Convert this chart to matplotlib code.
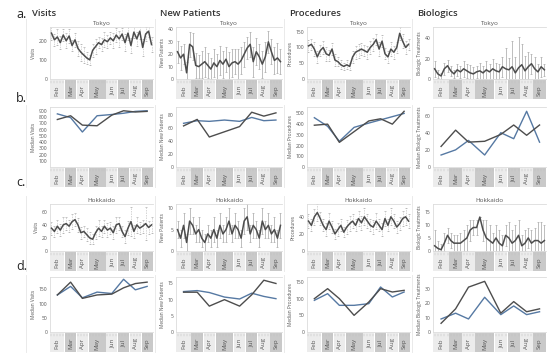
import matplotlib

matplotlib.use("Agg")
import matplotlib.pyplot as plt
import numpy as np
from matplotlib.patches import Rectangle

W, H = 550, 359

plt.rcParams.update({
    "font.family": ["Open Sans", "DejaVu Sans"],
    "figure.dpi": 100,
})

MONTHS = ["Feb", "Mar", "Apr", "May", "Jun", "Jul", "Aug", "Sep"]
WEEKS_PER_MONTH = [5, 4, 4, 6, 4, 4, 4, 4]

COLUMN_TITLES = ["Visits", "New Patients", "Procedures", "Biologics"]
WEEKLY_YLABELS = ["Visits", "New Patients", "Procedures", "Biologic Treatments"]
MONTHLY_YLABELS = ["Median Visits", "Median New Patients",
                   "Median Procedures", "Median Biologic Treatments"]

# ---- row a: Tokyo, weekly ----
TOKYO_VISITS = [240, 205, 220, 190, 230, 200, 225, 175, 205, 160, 140, 125,
                110, 100, 150, 170, 190, 180, 205, 195, 215, 200, 230, 210,
                235, 190, 240, 175, 245, 210, 250, 165, 235, 250, 180]
TOKYO_VISITS_ERR = [35, 30, 40, 35, 30, 40, 35, 30, 35, 40, 45, 40, 30, 25,
                    35, 40, 30, 35, 40, 35, 30, 40, 35, 40, 30, 45, 35, 40,
                    30, 35, 40, 45, 35, 30, 40]
TOKYO_NEWPAT = [22, 17, 20, 5, 28, 26, 11, 10, 12, 14, 11, 8, 13, 10, 15, 12,
                16, 10, 13, 14, 12, 15, 20, 25, 28, 14, 22, 18, 12, 18, 30,
                22, 15, 17, 14]
TOKYO_NEWPAT_ERR = [9, 10, 8, 9, 10, 11, 10, 9, 11, 12, 10, 9, 11, 10, 12, 11,
                    10, 12, 11, 10, 12, 11, 10, 9, 10, 12, 11, 10, 11, 12, 9,
                    10, 11, 12, 10]
TOKYO_PROC = [105, 110, 95, 70, 90, 100, 80, 75, 95, 60, 55, 45, 40, 45, 40,
              70, 85, 90, 95, 90, 85, 100, 110, 125, 95, 120, 80, 70, 95, 85,
              100, 145, 120, 100, 110]
TOKYO_PROC_ERR = [20, 18, 22, 20, 18, 20, 22, 18, 20, 18, 15, 14, 12, 14, 12,
                  18, 20, 22, 20, 18, 20, 22, 20, 18, 22, 20, 18, 20, 22, 20,
                  18, 20, 22, 20, 18]
TOKYO_BIO = [10, 5, 3, 10, 13, 8, 5, 9, 7, 10, 8, 6, 5, 7, 8, 6, 9, 7, 10, 8,
             7, 12, 10, 9, 12, 6, 11, 14, 8, 12, 15, 10, 7, 12, 9]
TOKYO_BIO_ERR = [8, 4, 3, 6, 6, 5, 4, 6, 6, 8, 7, 8, 7, 6, 8, 7, 9, 8, 10, 8,
                 8, 10, 20, 12, 25, 16, 30, 20, 15, 14, 10, 12, 8, 10, 6]

# ---- row b: Tokyo, monthly medians ----
TOKYO_M_VISITS_A = [760, 820, 670, 660, 830, 900, 880, 890]
TOKYO_M_VISITS_B = [850, 790, 560, 820, 840, 860, 890, 900]
TOKYO_M_NEWPAT_A = [63, 73, 46, 54, 62, 84, 78, 83]
TOKYO_M_NEWPAT_B = [67, 71, 70, 72, 70, 76, 71, 72]
TOKYO_M_PROC_A = [390, 400, 230, 330, 430, 450, 400, 520]
TOKYO_M_PROC_B = [460, 380, 240, 370, 410, 440, 470, 500]
TOKYO_M_BIO_A = [24, 43, 29, 30, 38, 49, 37, 49]
TOKYO_M_BIO_B = [14, 20, 31, 14, 40, 33, 65, 29]

# ---- row c: Hokkaido, weekly ----
HOKKAIDO_VISITS = [35, 30, 38, 32, 40, 42, 38, 45, 48, 40, 28, 30, 25, 20, 18,
                   28, 35, 30, 38, 32, 35, 28, 40, 42, 30, 22, 35, 45, 30, 40,
                   35, 38, 42, 36, 40]
HOKKAIDO_VISITS_ERR = [10, 8, 10, 9, 12, 10, 9, 12, 10, 11, 9, 8, 10, 9, 8,
                       10, 12, 9, 10, 11, 9, 10, 12, 10, 9, 10, 11, 22, 10, 12,
                       9, 10, 25, 10, 12]
HOKKAIDO_NEWPAT = [5, 3, 6, 2, 7, 6, 4, 5, 3, 2, 4, 3, 5, 3, 6, 4, 5, 7, 4, 6,
                   5, 3, 7, 8, 4, 6, 5, 3, 7, 5, 6, 4, 5, 3, 6]
HOKKAIDO_NEWPAT_ERR = [2, 2, 3, 2, 3, 2, 2, 3, 2, 2, 2, 2, 3, 2, 3, 2, 3, 3, 2,
                       3, 2, 2, 3, 3, 2, 3, 2, 2, 3, 2, 3, 2, 3, 2, 3]
HOKKAIDO_PROC = [35, 30, 40, 45, 38, 30, 25, 35, 28, 20, 25, 30, 22, 28, 32,
                 35, 30, 38, 33, 40, 35, 30, 28, 35, 30, 25, 38, 30, 40, 35,
                 28, 32, 38, 40, 35]
HOKKAIDO_PROC_ERR = [8, 7, 9, 10, 8, 7, 8, 9, 7, 6, 8, 7, 6, 8, 9, 8, 7, 9, 8,
                     10, 8, 7, 8, 9, 7, 8, 9, 7, 10, 8, 7, 8, 9, 10, 8]
HOKKAIDO_BIO = [2, 1, 0.5, 3, 6, 4, 3, 3, 3, 4, 5, 8, 9, 9, 13, 8, 5, 4, 3, 5,
                3, 2, 6, 5, 3, 4, 6, 2, 3, 5, 3, 4, 4, 3, 4]
HOKKAIDO_BIO_ERR = [6, 3, 2, 4, 3, 3, 3, 3, 4, 4, 5, 4, 3, 3, 0, 4, 7, 6, 4,
                    5, 5, 4, 4, 6, 5, 6, 6, 4, 5, 4, 5, 5, 7, 8, 6]

# ---- row d: Hokkaido, monthly medians ----
HOKKAIDO_M_VISITS_A = [130, 175, 118, 130, 133, 155, 170, 175]
HOKKAIDO_M_VISITS_B = [130, 160, 120, 140, 135, 185, 148, 160]
HOKKAIDO_M_NEWPAT_A = [12.3, 12.3, 8, 10, 8, 11.5, 16, 15]
HOKKAIDO_M_NEWPAT_B = [12.5, 12.8, 12.2, 10.8, 10.2, 12, 11, 10.3]
HOKKAIDO_M_PROC_A = [100, 130, 100, 50, 90, 130, 120, 125]
HOKKAIDO_M_PROC_B = [95, 115, 80, 80, 85, 135, 105, 120]
HOKKAIDO_M_BIO_A = [6, 16, 31, 35, 13, 21, 14, 16]
HOKKAIDO_M_BIO_B = [9, 13, 9, 24, 12, 18, 12, 14]

WEEKLY_ROWS = {
    "a": [(TOKYO_VISITS, TOKYO_VISITS_ERR, 272, [0, 100, 200]),
          (TOKYO_NEWPAT, TOKYO_NEWPAT_ERR, 42, [0, 10, 20, 30, 40]),
          (TOKYO_PROC, TOKYO_PROC_ERR, 165, [0, 50, 100, 150]),
          (TOKYO_BIO, TOKYO_BIO_ERR, 51, [0, 20, 40])],
    "c": [(HOKKAIDO_VISITS, HOKKAIDO_VISITS_ERR, 72, [0, 20, 40, 60]),
          (HOKKAIDO_NEWPAT, HOKKAIDO_NEWPAT_ERR, 11, [0, 5, 10]),
          (HOKKAIDO_PROC, HOKKAIDO_PROC_ERR, 55, [0, 20, 40]),
          (HOKKAIDO_BIO, HOKKAIDO_BIO_ERR, 18, [0, 5, 10, 15])],
}
MONTHLY_ROWS = {
    "b": [(TOKYO_M_VISITS_A, TOKYO_M_VISITS_B, 960, list(range(100, 1000, 100))),
          (TOKYO_M_NEWPAT_A, TOKYO_M_NEWPAT_B, 92, [0, 20, 40, 60, 80]),
          (TOKYO_M_PROC_A, TOKYO_M_PROC_B, 560, [0, 100, 200, 300, 400, 500]),
          (TOKYO_M_BIO_A, TOKYO_M_BIO_B, 70, [0, 20, 40, 60])],
    "d": [(HOKKAIDO_M_VISITS_A, HOKKAIDO_M_VISITS_B, 193, [0, 50, 100, 150]),
          (HOKKAIDO_M_NEWPAT_A, HOKKAIDO_M_NEWPAT_B, 17, [0, 5, 10, 15]),
          (HOKKAIDO_M_PROC_A, HOKKAIDO_M_PROC_B, 165, [0, 50, 100, 150]),
          (HOKKAIDO_M_BIO_A, HOKKAIDO_M_BIO_B, 38, [0, 10, 20, 30])],
}

# layout in pixels
COL_START = [26, 155, 284, 412]
PLOT_X = [(50, 153), (176, 282), (307, 410), (433, 546)]
ROWS = {  # plot top, plot bottom, band bottom
    "a": (27, 79, 99),
    "b": (107, 167, 187),
    "c": (204, 251, 271),
    "d": (277, 332, 352),
}
ROW_LABEL_Y = {"a": 14, "b": 98, "c": 183, "d": 266}
TITLE_CITY = {"a": "Tokyo", "c": "Hokkaido"}

LINE_DARK = "#4d4d4d"
LINE_BLUE = "#5679a3"
BAND_LIGHT = "#ececec"
BAND_DARK = "#c9c9c9"
BORDER = "#dcdcdc"
TEXT = "#555555"


def rect(x0, y0, x1, y1):
    return [x0 / W, 1 - y1 / H, (x1 - x0) / W, (y1 - y0) / H]


n_weeks = sum(WEEKS_PER_MONTH)
month_edges = np.concatenate([[0], np.cumsum(WEEKS_PER_MONTH)])
month_centers = (month_edges[:-1] + month_edges[1:]) / 2
week_x = np.arange(n_weeks) + 0.5


def style_plot(ax, ymax, ticks, ylabel):
    ax.set_xlim(0, n_weeks)
    ax.set_ylim(0, ymax)
    ax.set_xticks([])
    ax.set_yticks(ticks)
    ax.tick_params(axis="y", length=0, labelsize=3.6, colors=TEXT, pad=2)
    ax.spines["right"].set_visible(False)
    for s in ["left", "top", "bottom"]:
        ax.spines[s].set_color(BORDER)
        ax.spines[s].set_linewidth(0.6)
    ax.set_ylabel(ylabel, fontsize=3.4, color=TEXT, labelpad=2)
    ax.patch.set_alpha(0)


def draw_band(fig, x0, x1, y0, y1):
    bax = fig.add_axes(rect(x0, y0, x1, y1))
    bax.set_xlim(0, n_weeks)
    bax.set_ylim(1, 0)
    bax.axis("off")
    for i, m in enumerate(MONTHS):
        c = BAND_LIGHT if i % 2 == 0 else BAND_DARK
        bax.add_patch(Rectangle((month_edges[i] + 0.1, 0), WEEKS_PER_MONTH[i] - 0.2, 1,
                                facecolor=c, edgecolor="none"))
        bax.text(month_centers[i], 0.56, m, rotation=90, ha="center",
                 va="center", fontsize=4.4, color=TEXT)
    for wx in week_x:
        bax.plot([wx, wx], [0.03, 0.15], color="#bdbdbd", lw=0.35)


fig = plt.figure(figsize=(W / 100, H / 100), dpi=100)
fig.patch.set_facecolor("white")

for ci, title in enumerate(COLUMN_TITLES):
    fig.text(COL_START[ci] / W + (6 if ci == 0 else 5) / W, 1 - 14 / H, title,
             fontsize=6.8, color="#333333", va="center", ha="left",
             fontweight="semibold")

for rk, ly in ROW_LABEL_Y.items():
    fig.text(16 / W, 1 - ly / H, rk + ".", fontsize=9, color="#222222",
             va="center", ha="left")

# faint column separators
sep_ax = fig.add_axes([0, 0, 1, 1])
sep_ax.set_xlim(0, W)
sep_ax.set_ylim(H, 0)
sep_ax.axis("off")
for cx in COL_START:
    for rk in ROWS:
        top, bot, band = ROWS[rk]
        sep_ax.plot([cx, cx], [top - (8 if rk in TITLE_CITY else 2), band],
                    color="#e6e6e6", lw=0.6)

for rk, series in WEEKLY_ROWS.items():
    top, bot, band = ROWS[rk]
    for ci, (vals, err, ymax, ticks) in enumerate(series):
        x0, x1 = PLOT_X[ci]
        ax = fig.add_axes(rect(x0, top, x1, bot))
        vals = np.asarray(vals, dtype=float)
        err = np.asarray(err, dtype=float)
        lower = np.minimum(vals, err)
        ls = ":" if ci in (0, 2) else "-"
        eb = ax.errorbar(week_x, vals, yerr=[lower, err], fmt="none",
                         ecolor="#9a9a9a", elinewidth=0.45, capsize=0.8,
                         capthick=0.4, zorder=1)
        for lc in eb[2]:
            lc.set_linestyle(ls)
        ax.plot(week_x, vals, color=LINE_DARK, lw=1.1, zorder=3)
        style_plot(ax, ymax, ticks, WEEKLY_YLABELS[ci])
        fig.text((x0 + x1) / 2 / W, 1 - (top - 4) / H, TITLE_CITY[rk],
                 fontsize=4.6, color=TEXT, ha="center", va="center")
        draw_band(fig, x0, x1, bot + 1, band)

for rk, series in MONTHLY_ROWS.items():
    top, bot, band = ROWS[rk]
    for ci, (va, vb, ymax, ticks) in enumerate(series):
        x0, x1 = PLOT_X[ci]
        ax = fig.add_axes(rect(x0, top, x1, bot))
        ax.plot(month_centers, vb, color=LINE_BLUE, lw=1.0, zorder=3)
        ax.plot(month_centers, va, color=LINE_DARK, lw=1.0, zorder=3)
        style_plot(ax, ymax, ticks, MONTHLY_YLABELS[ci])
        draw_band(fig, x0, x1, bot + 1, band)

fig.savefig("out.png", dpi=100, facecolor="white")
